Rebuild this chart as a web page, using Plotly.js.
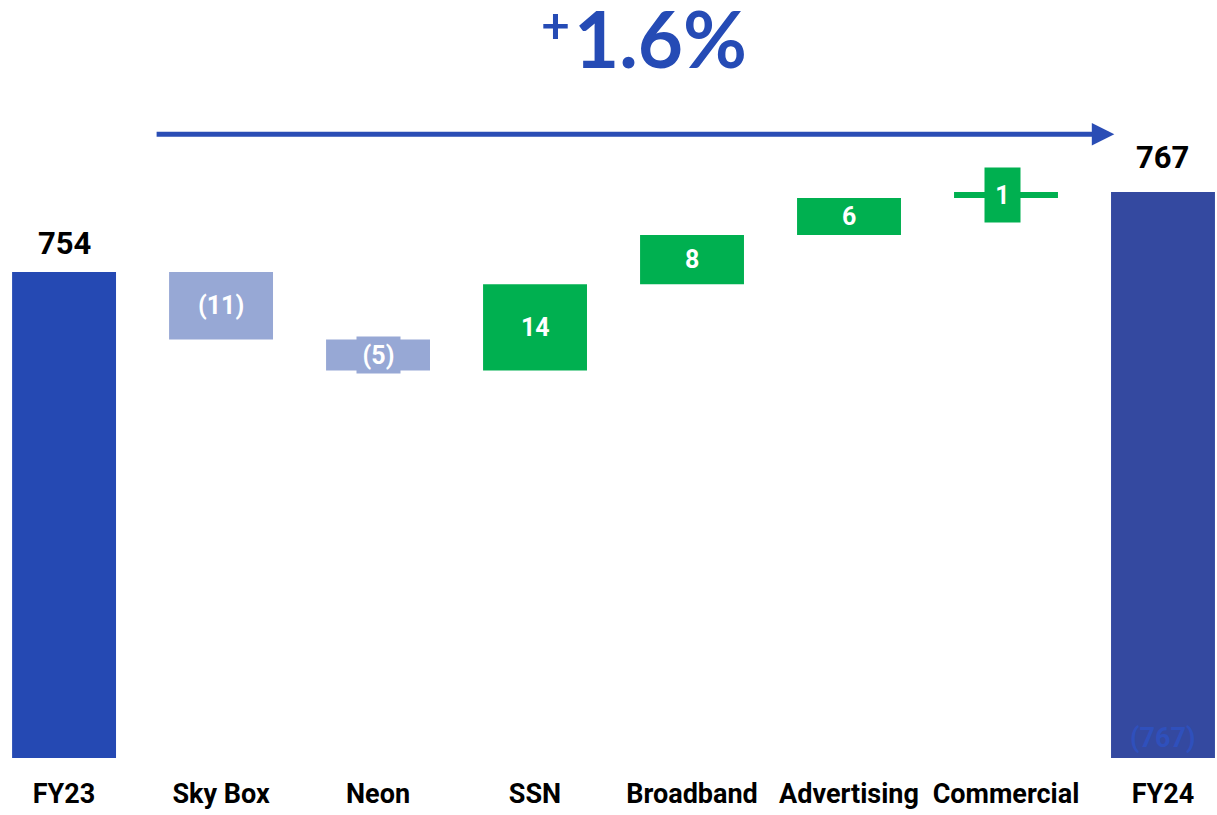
<!DOCTYPE html>
<html>
<head>
<meta charset="utf-8">
<script src="https://cdn.plot.ly/plotly-3.0.1.min.js"></script>
<style>html,body{margin:0;padding:0;background:#fff;}#chart{width:1217px;height:815px;}</style>
</head>
<body>
<div id="chart"></div>
<script>
const categories = ['FY23','Sky Box','Neon','SSN','Broadband','Advertising','Commercial','FY24'];
const measures = ['absolute','relative','relative','relative','relative','relative','relative','total'];
const values = [754,-11,-5,14,8,6,1,767];
const valueLabels = ['754','(11)','(5)','14','8','6','1','767'];
const hiddenLabel = '(767)';
const headlineSign = '+';
const headline = '1.6%';

const C_START = '#2549B3', C_END = '#3449A0', C_DOWN = '#97A8D5', C_UP = '#00B050';
const C_HEAD = '#254BB5';

// build bases / heights from data
let running = 0;
const bases = [], heights = [], colors = [];
values.forEach((v, i) => {
  const m = measures[i];
  if (m === 'absolute' || m === 'total') {
    bases.push(0); heights.push(v); running = v;
    colors.push(i === 0 ? C_START : C_END);
  } else {
    bases.push(running); heights.push(v); running += v;
    colors.push(v < 0 ? C_DOWN : C_UP);
  }
});
const xs = categories.map((c, i) => i);

const trace = {
  type: 'bar', x: xs, y: heights, base: bases,
  marker: {color: colors, line: {width: 0}},
  hoverinfo: 'skip', showlegend: false
};

const labelFont = 'Roboto, "Open Sans", Arial, sans-serif';
const annotations = [];
values.forEach((v, i) => {
  const m = measures[i];
  if (m === 'absolute' || m === 'total') {
    annotations.push({x: i, y: v, xref: 'x', yref: 'y', text: valueLabels[i], showarrow: false,
      yanchor: 'bottom', yshift: i === 0 ? 8 : 14, font: {family: labelFont, size: 31, color: '#000', weight: 700}});
  } else {
    const mid = bases[i] + v / 2;
    const a = {x: i, y: mid, xref: 'x', yref: 'y', text: valueLabels[i], showarrow: false,
      font: {family: labelFont, size: 25, color: '#fff', weight: 700}};
    if (Math.abs(v) <= 5) {
      a.bgcolor = colors[i];
      a.borderpad = 0;
      a.width = Math.abs(v) <= 1 ? 35 : 43;
      a.height = Math.abs(v) <= 1 ? 54 : 36;
      if (Math.abs(v) <= 1) a.xshift = -3.5;
    }
    annotations.push(a);
  }
});
// faint inner label on final bar
annotations.push({x: 7, y: 675, xref: 'x', yref: 'y', text: hiddenLabel, showarrow: false,
  yanchor: 'bottom', yshift: 2, font: {family: labelFont, size: 27, color: '#2F50BC', weight: 700}});
// growth arrow
const last = values.length - 1;
annotations.push({x: last - 0.31, y: values[last] + 9.4, ax: 0.58, ay: values[last] + 9.4,
  xref: 'x', yref: 'y', axref: 'x', ayref: 'y', text: '', showarrow: true,
  arrowhead: 2, arrowsize: 0.9, arrowwidth: 5, arrowcolor: '#2A4DB5'});
// headline
annotations.push({x: 660 / 1217, y: 1 - 38 / 758, xref: 'paper', yref: 'paper', text: headline,
  showarrow: false, xanchor: 'center', yanchor: 'middle', height: 72, borderpad: 0,
  font: {family: 'Lato, "Open Sans", sans-serif', size: 78, color: C_HEAD, weight: 700}});
annotations.push({x: 555 / 1217, y: 1 - 24 / 758, xref: 'paper', yref: 'paper', text: headlineSign,
  showarrow: false, xanchor: 'center', yanchor: 'middle', height: 40, borderpad: 0,
  font: {family: 'Lato, "Open Sans", sans-serif', size: 50, color: C_HEAD, weight: 700}});

const layout = {
  width: 1217, height: 815,
  margin: {l: 0, r: 0, t: 0, b: 57},
  paper_bgcolor: '#fff', plot_bgcolor: '#fff',
  bargap: 0.338,
  xaxis: {range: [-0.408, 7.344], tickmode: 'array', tickvals: xs, ticktext: categories,
    showgrid: false, zeroline: false, showline: false, ticks: '',
    tickfont: {family: labelFont, size: 27, color: '#000', weight: 700}, ticklabelstandoff: 17},
  yaxis: {range: [675, 798.2], showgrid: false, zeroline: false, showline: false,
    showticklabels: false, ticks: ''},
  annotations: annotations
};

Plotly.newPlot('chart', [trace], layout, {displayModeBar: false, staticPlot: true});
</script>
</body>
</html>
